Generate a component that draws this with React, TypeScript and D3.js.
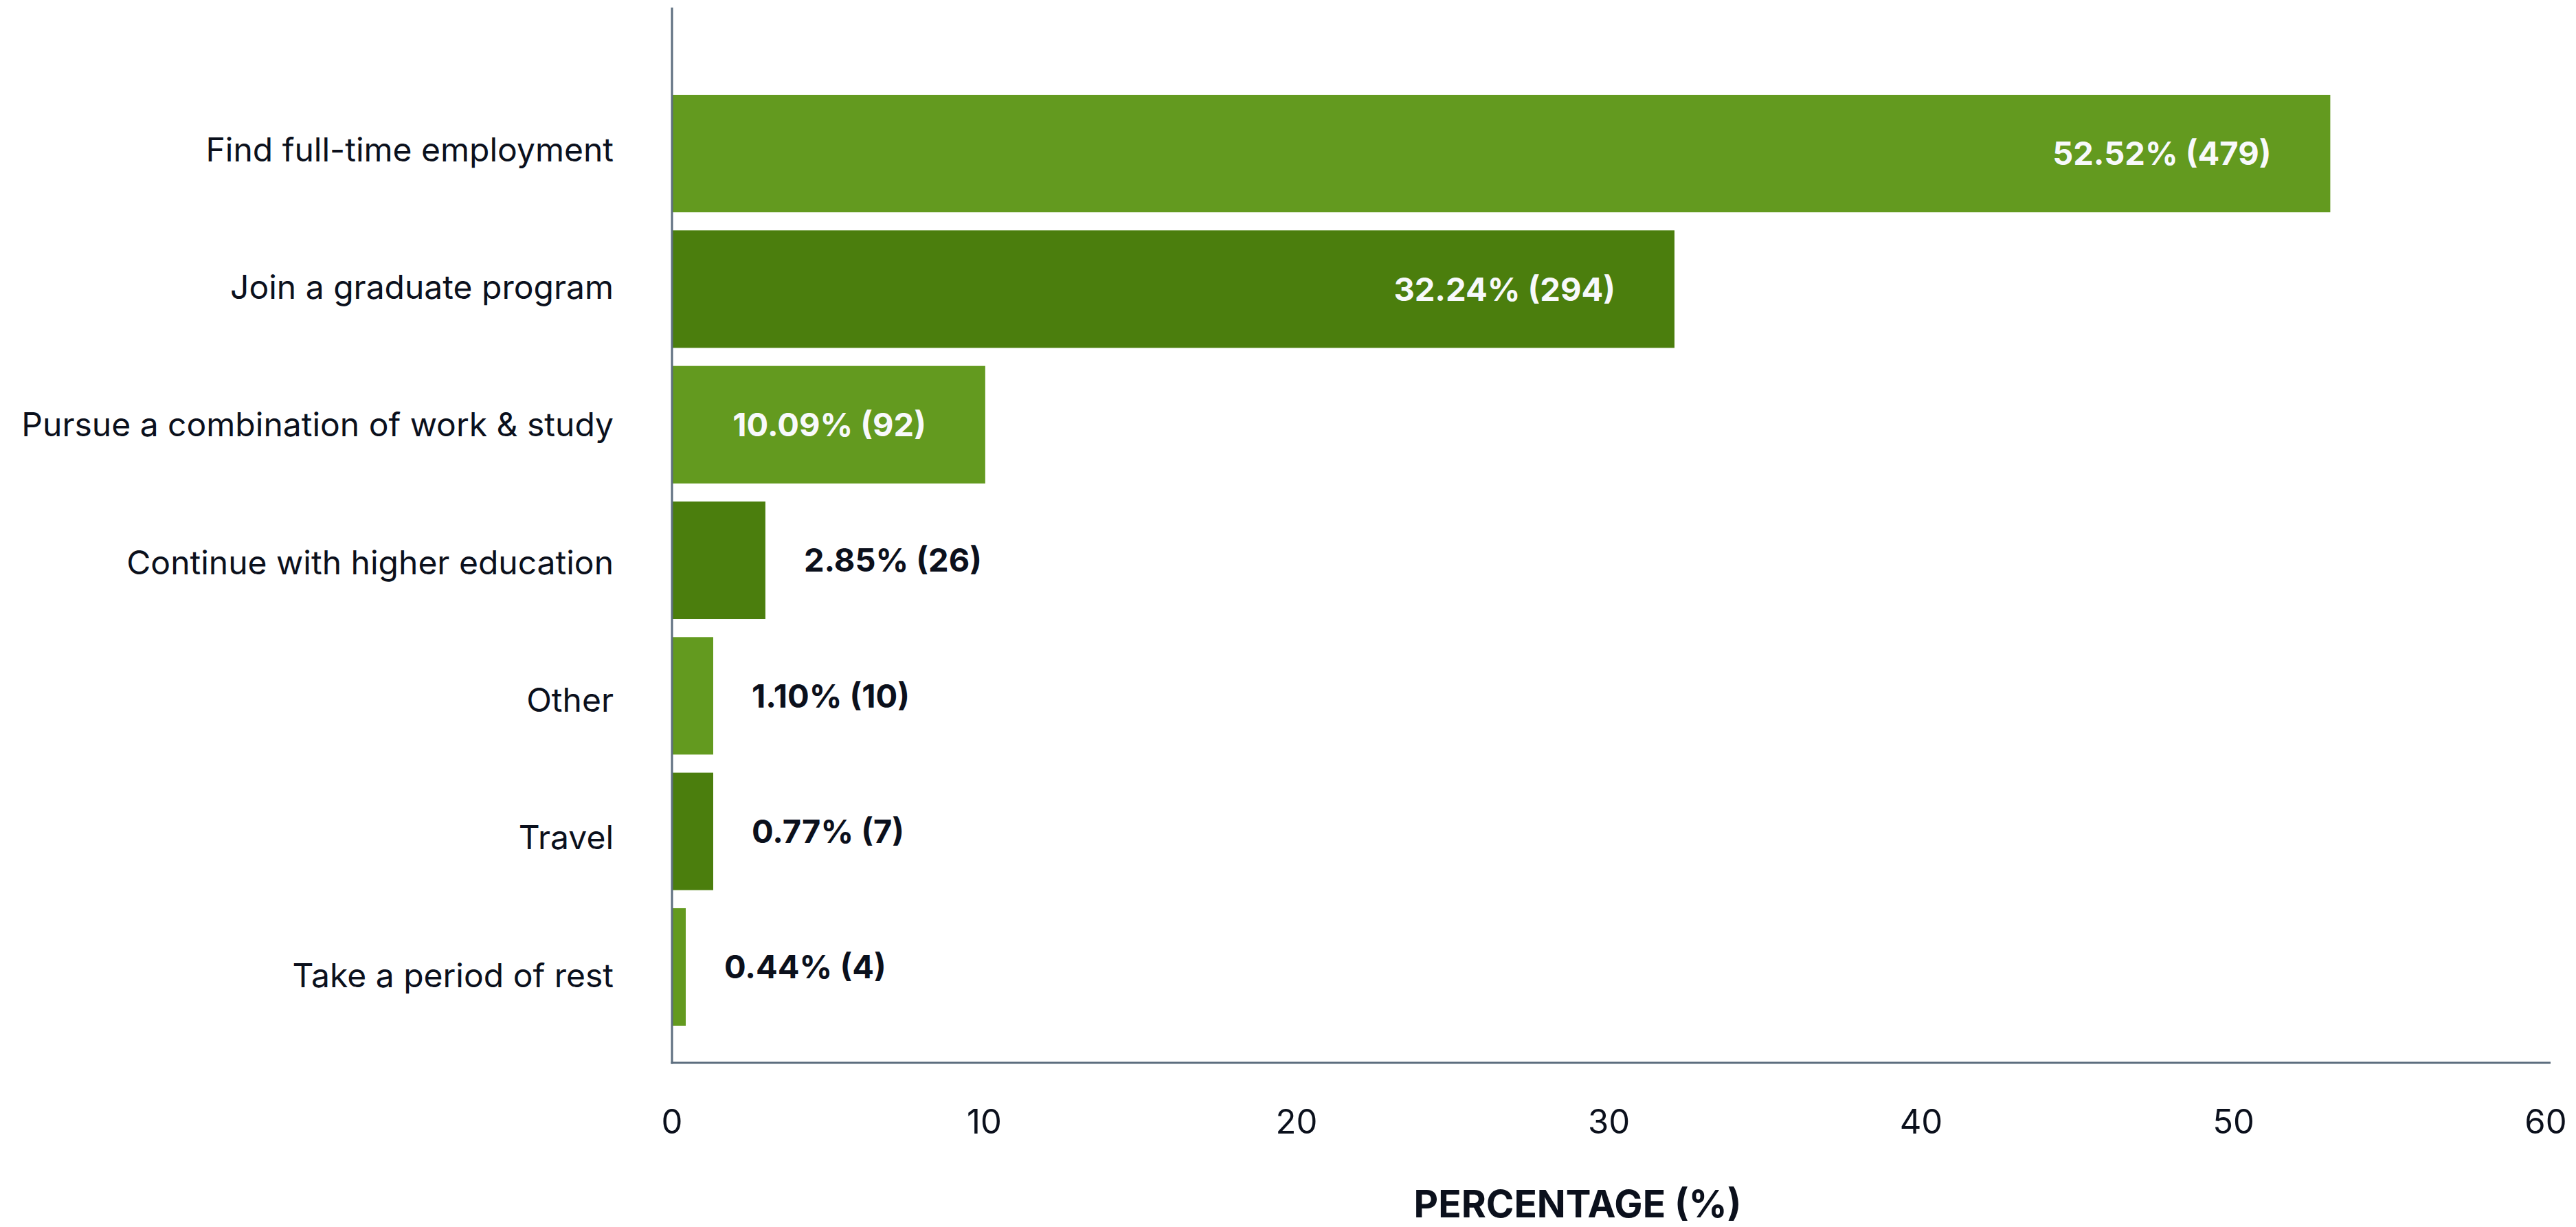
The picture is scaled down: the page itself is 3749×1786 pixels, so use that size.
import React, { useEffect } from "react";
import * as d3 from "d3";

const categories = [
  "Find full-time employment",
  "Join a graduate program",
  "Pursue a combination of work & study",
  "Continue with higher education",
  "Other",
  "Travel",
  "Take a period of rest",
];
// bar lengths as drawn in the picture (% axis)
const barValues = [53.1, 32.1, 10.03, 2.99, 1.32, 1.32, 0.44];
// label texts
const labelPercents = ["52.52", "32.24", "10.09", "2.85", "1.10", "0.77", "0.44"];
const labelCounts = [479, 294, 92, 26, 10, 7, 4];
const xTicks = [0, 10, 20, 30, 40, 50, 60];
const axisTitle = "PERCENTAGE (%)";

const W = 3749;
const H = 1786;
const LIGHT = "#639a1f";
const DARK = "#4b7e0d";
const AXIS = "#5d6e7f";
const TEXT = "#0b101c";
const FONT = "Inter, 'Noto Sans', sans-serif";

export default function App() {
  useEffect(() => {
    document.body.style.margin = "0";
  }, []);

  const x = d3.scaleLinear().domain([0, 60]).range([978, 3705]);
  const y = d3
    .scaleBand<string>()
    .domain(categories)
    .range([138, 1493])
    .paddingInner(0.1333)
    .paddingOuter(0);
  const yLabel = d3.scalePoint<string>().domain(categories).range([218, 1420]);
  const axisY = 1547;

  return (
    <svg
      width={W}
      height={H}
      viewBox={`0 0 ${W} ${H}`}
      style={{ position: "absolute", left: 0, top: 0, background: "#fff" }}
    >
      <rect x={0} y={0} width={W} height={H} fill="#fff" />
      {categories.map((c, i) => {
        const y0 = y(c)!;
        const bw = y.bandwidth();
        const cy = y0 + bw / 2;
        const xEnd = x(barValues[i]);
        const inside = barValues[i] > 5;
        const label = `${labelPercents[i]}% (${labelCounts[i]})`;
        return (
          <g key={c}>
            <rect
              x={x(0)}
              y={y0}
              width={xEnd - x(0)}
              height={bw}
              fill={i % 2 === 0 ? LIGHT : DARK}
            />
            <text
              x={893}
              y={yLabel(c)!}
              dy="0.35em"
              textAnchor="end"
              fontFamily={FONT}
              fontSize={48}
              fill={TEXT}
            >
              {c}
            </text>
            <text
              x={inside ? xEnd - 86 : xEnd + 56}
              y={cy}
              dy="0.36em"
              textAnchor={inside ? "end" : "start"}
              fontFamily={FONT}
              fontWeight={700}
              fontSize={47}
              fill={inside ? "#f8f9fb" : TEXT}
            >
              {label}
            </text>
          </g>
        );
      })}
      <line x1={978} x2={978} y1={11} y2={axisY + 1.5} stroke={AXIS} strokeWidth={3} />
      <line x1={976.5} x2={3712} y1={axisY} y2={axisY} stroke={AXIS} strokeWidth={3} />
      {xTicks.map((t) => (
        <text
          key={t}
          x={x(t)}
          y={1633}
          dy="0.35em"
          textAnchor="middle"
          fontFamily={FONT}
          fontSize={49}
          fill={TEXT}
        >
          {t}
        </text>
      ))}
      <text
        x={2296}
        y={1752}
        dy="0.36em"
        textAnchor="middle"
        fontFamily={FONT}
        fontWeight={700}
        fontSize={55}
        fill={TEXT}
      >
        {axisTitle}
      </text>
    </svg>
  );
}
